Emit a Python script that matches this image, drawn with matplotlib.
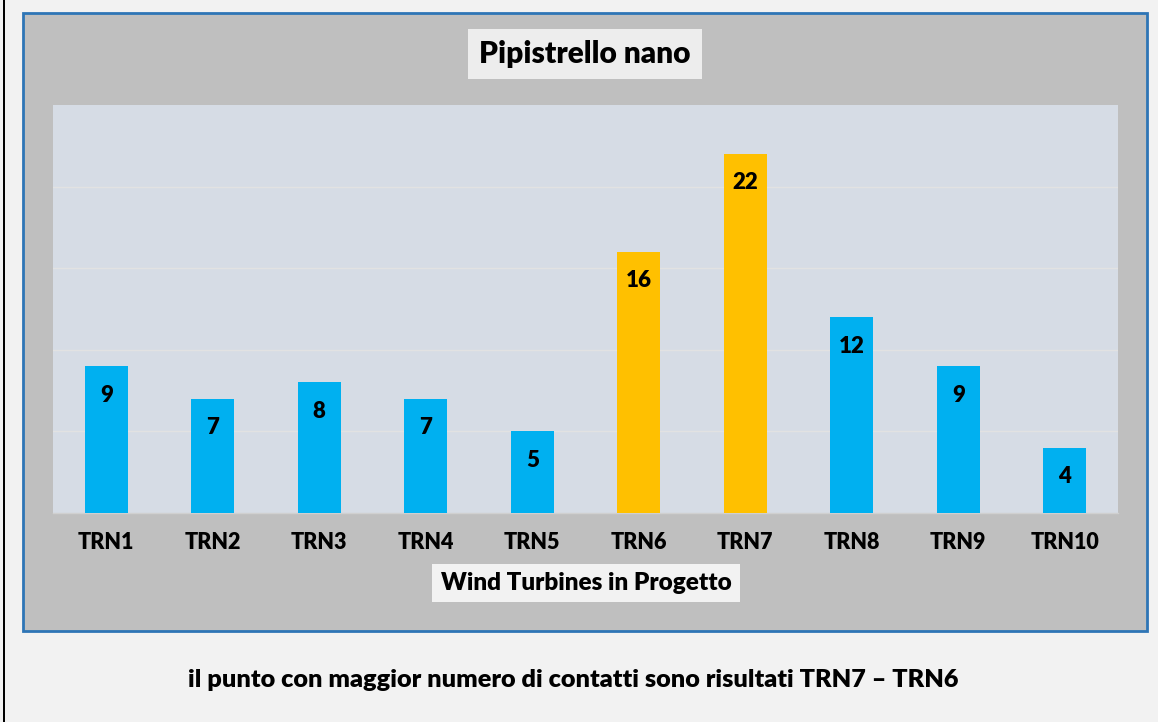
import matplotlib
matplotlib.use("Agg")
import matplotlib.pyplot as plt
from matplotlib.patches import Rectangle

categories = ["TRN1", "TRN2", "TRN3", "TRN4", "TRN5", "TRN6", "TRN7", "TRN8", "TRN9", "TRN10"]
values = [9, 7, 8, 7, 5, 16, 22, 12, 9, 4]
highlight = ["TRN6", "TRN7"]
title = "Pipistrello nano"
xlabel = "Wind Turbines in Progetto"
caption = "il punto con maggior numero di contatti sono risultati TRN7 \u2013 TRN6"

W, H = 1158, 722
FONT = ["Lato", "DejaVu Sans"]
plt.rcParams["font.family"] = FONT
WT = "heavy"

fig = plt.figure(figsize=(W / 100, H / 100), dpi=100)
fig.patch.set_facecolor("#F2F2F2")

def fx(px):
    return px / W

def fy(py):
    return 1 - py / H

# left black rule
fig.add_artist(Rectangle((fx(3), 0), fx(2), 1, transform=fig.transFigure,
                         facecolor="black", edgecolor="none", zorder=-2))
# chart box
fig.add_artist(Rectangle((fx(23), fy(631)), fx(1147 - 23), (631 - 13) / H,
                         transform=fig.transFigure, facecolor="#BFBFBF",
                         edgecolor="#2E75B6", linewidth=2, zorder=-1))

ax = fig.add_axes([fx(53), fy(513), fx(1118 - 53), (513 - 105) / H])
ax.set_zorder(1)
ax.set_facecolor("#D6DCE5")
colors = ["#FFC000" if c in highlight else "#00B0F0" for c in categories]
x = list(range(len(categories)))
ax.bar(x, values, width=0.40, color=colors, zorder=3)
ax.set_xlim(-0.5, len(categories) - 0.5)
ax.set_ylim(0, 25)
ax.set_yticks([5, 10, 15, 20])
ax.yaxis.grid(True, color="#E2E2E2", linewidth=1, zorder=0)
ax.tick_params(axis="y", left=False, labelleft=False)
ax.set_xticks(x)
ax.set_xticklabels(categories, fontsize=15.5, fontweight=WT)
ax.tick_params(axis="x", length=0, pad=14)
for s in ["top", "left", "right"]:
    ax.spines[s].set_visible(False)
ax.spines["bottom"].set_color("#D0D0D0")
ax.spines["bottom"].set_linewidth(1)

for xi, v in zip(x, values):
    ax.annotate(str(v), (xi, v), xytext=(0, -29), textcoords="offset pixels",
                ha="center", va="center", fontsize=16, fontweight=WT, color="black", zorder=4)

fig.text(fx(585), fy(54), title, ha="center", va="center", fontsize=21.5, fontweight=WT,
         bbox=dict(facecolor="#EDEDED", edgecolor="none", pad=8))
fig.text(fx(586), fy(583), xlabel, ha="center", va="center", fontsize=17.5, fontweight=WT,
         bbox=dict(facecolor="#F2F2F2", edgecolor="none", pad=6))
fig.text(fx(573), fy(680), caption, ha="center", va="center", fontsize=18.2, fontweight=WT)

fig.savefig("out.png", dpi=100, facecolor=fig.get_facecolor())
